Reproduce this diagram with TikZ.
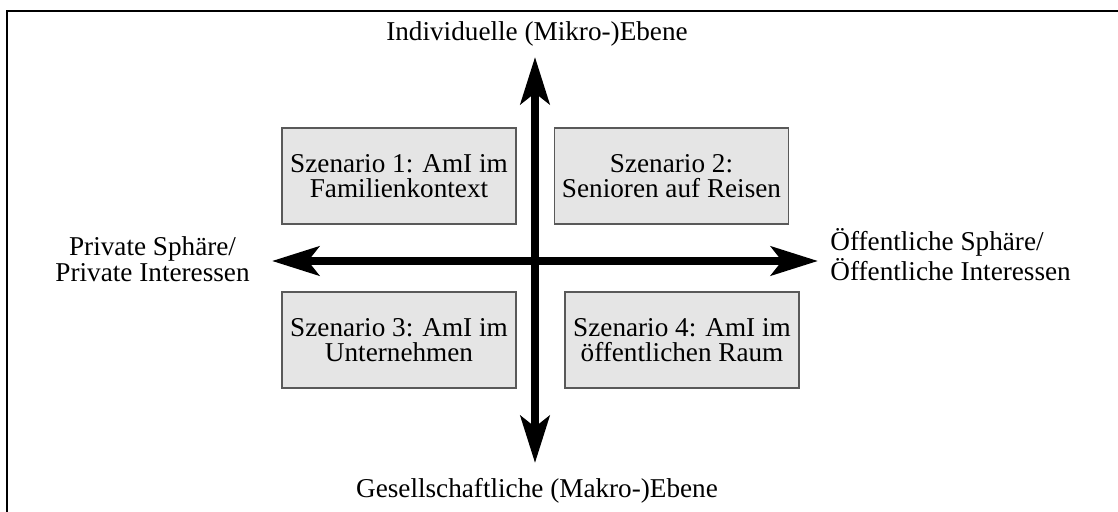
\documentclass[tikz,border=0pt]{standalone}
\usepackage{fontspec}
\setmainfont{Liberation Serif}
\usetikzlibrary{arrows.meta}
\begin{document}
\begin{tikzpicture}[x=0.5pt,y=-0.5pt,
  lbl/.style={inner sep=0pt, font=\fontsize{13.6}{13.2}\selectfont},
  scen/.style={draw=black!65, fill=black!10, line width=0.6pt, minimum width=117pt, minimum height=48pt, inner sep=0pt, align=center, font=\fontsize{13.6}{12.2}\selectfont},
  axis/.style={line width=4pt, {Stealth[length=23.5pt,width=14.5pt,inset=5.5pt]}-{Stealth[length=23.5pt,width=14.5pt,inset=5.5pt]}},
  frame/.style={line width=0.6pt}]
\useasboundingbox (0,0) rectangle (1118,512);
\coordinate (fa) at (7,512);
\coordinate (fb) at (7,11);
\coordinate (fc) at (1118,11);
\draw[frame] (fa) -- (fb) -- (fc);
\node[scen] (s1) at (399,176) {Szenario 1: AmI im\\Familienkontext};
\node[scen] (s2) at (671.5,176) {Szenario 2:\\Senioren auf Reisen};
\node[scen] (s3) at (399,340) {Szenario 3: AmI im\\Unternehmen};
\node[scen] (s4) at (682,340) {Szenario 4: AmI im\\öffentlichen Raum};
\coordinate (top) at (535,57);
\coordinate (bot) at (535,463);
\coordinate (lft) at (272,261);
\coordinate (rgt) at (818,261);
\draw[axis] (lft) -- (rgt);
\draw[axis] (bot) -- (top);
\node[lbl] (ltop) at (537,34) {Individuelle (Mikro-)Ebene};
\node[lbl] (lbot) at (537,491) {Gesellschaftliche (Makro-)Ebene};
\node[lbl, align=center, anchor=east] (llft) at (250,259) {Private Sphäre/\\Private Interessen};
\node[lbl, align=left, anchor=west] (lrgt) at (830,255) {Öffentliche Sphäre/\\Öffentliche Interessen};
\end{tikzpicture}
\end{document}
